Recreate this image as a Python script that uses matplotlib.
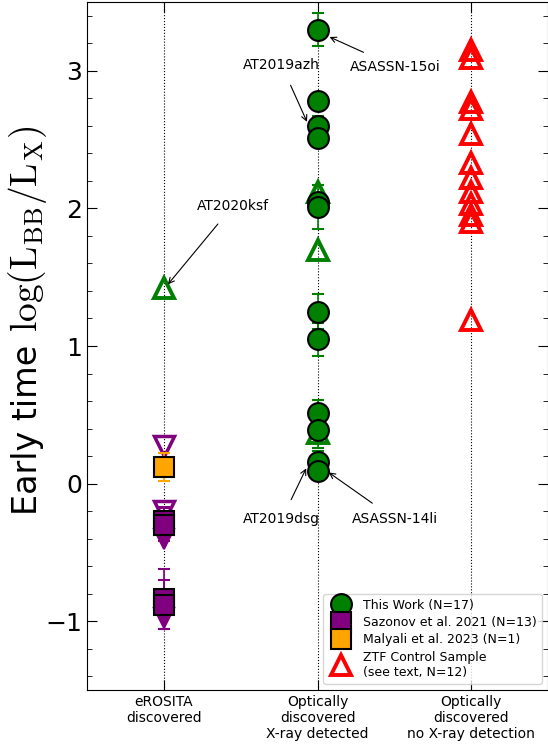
import matplotlib
matplotlib.use("Agg")
import matplotlib.pyplot as plt
from matplotlib.ticker import AutoMinorLocator

plt.rcParams['mathtext.fontset'] = 'cm'

# ---- data ----
categories = ["eROSITA\ndiscovered", "Optically\ndiscovered\nX-ray detected",
              "Optically\ndiscovered\nno X-ray detection"]

# This work (x = 1, optically discovered, X-ray detected)
work_y = [3.30, 2.78, 2.60, 2.51, 2.05, 2.01, 1.25, 1.05, 0.51, 0.39, 0.16, 0.09]
work_err = [0.12, 0.05, 0.07, 0.05, 0.05, 0.16, 0.13, 0.12, 0.10, 0.13, 0.08, 0.05]
work_lim_y = [2.12, 1.70, 0.37]          # open triangles at x = 1
ksf_y = [1.42]                            # AT2020ksf at x = 0

# Sazonov et al. 2021 (x = 0)
saz_y = [-0.27, -0.30, -0.84, -0.88]
saz_err = [0.10, 0.12, 0.22, 0.18]
saz_lim_open = [0.27, -0.20]
saz_lim_fill = [-0.40, -0.98]

# Malyali et al. 2023 (x = 0)
mal_y = [0.12]
mal_err = [0.10]

# ZTF control sample (x = 2)
ztf_y = [3.15, 3.09, 2.77, 2.72, 2.54, 2.33, 2.22, 2.12, 2.03, 1.95, 1.90, 1.19]

# annotations: (label, target x, target y, text x, text y)
annots = [
    ("AT2020ksf", 0.02, 1.44, 0.45, 2.02),
    ("AT2019azh", 0.935, 2.62, 0.766, 3.04),
    ("ASASSN-15oi", 1.07, 3.25, 1.506, 3.03),
    ("AT2019dsg", 0.93, 0.12, 0.766, -0.26),
    ("ASASSN-14li", 1.065, 0.087, 1.506, -0.26),
]

fig = plt.figure(figsize=(5.48, 7.47), dpi=100)
ax = fig.add_axes([0.159, 0.0763, 0.841, 0.921])

for xv in range(3):
    ax.axvline(xv, color='k', ls=':', lw=0.8, zorder=0)

ms = 15
tri_ms = 14

# This work triangles (drawn first, beneath circles)
ax.plot([1] * len(work_lim_y), work_lim_y, ls='none', marker='^', ms=tri_ms,
        mfc='none', mec='green', mew=2.8, zorder=2)
ax.plot([0] * len(ksf_y), ksf_y, ls='none', marker='^', ms=tri_ms,
        mfc='none', mec='green', mew=2.8, zorder=2)

h_work = ax.errorbar([1] * len(work_y), work_y, yerr=work_err, fmt='o', color='green',
                     mfc='green', mec='k', mew=1.5, ms=ms, capsize=4, capthick=1.5,
                     elinewidth=1.2, zorder=3, label='This Work (N=17)')

# Sazonov
ax.plot([0] * len(saz_lim_open), saz_lim_open, ls='none', marker='v', ms=tri_ms,
        mfc='none', mec='purple', mew=2.5, zorder=2)
ax.plot([0] * len(saz_lim_fill), saz_lim_fill, ls='none', marker='v', ms=tri_ms,
        mfc='purple', mec='purple', mew=1.5, zorder=2)
h_saz = ax.errorbar([0] * len(saz_y), saz_y, yerr=saz_err, fmt='s', color='purple',
                    mfc='purple', mec='k', mew=1.5, ms=ms, capsize=4, capthick=1.5,
                    elinewidth=1.2, zorder=3, label='Sazonov et al. 2021 (N=13)')

# Malyali
h_mal = ax.errorbar([0] * len(mal_y), mal_y, yerr=mal_err, fmt='s', color='orange',
                    mfc='orange', mec='k', mew=1.5, ms=ms, capsize=4, capthick=1.5,
                    elinewidth=1.2, zorder=3, label='Malyali et al. 2023 (N=1)')

# ZTF
h_ztf, = ax.plot([2] * len(ztf_y), ztf_y, ls='none', marker='^', ms=tri_ms,
                 mfc='none', mec='red', mew=2.8, zorder=3,
                 label='ZTF Control Sample\n(see text, N=12)')

for lab, x, y, tx, ty in annots:
    ax.annotate(lab, xy=(x, y), xytext=(tx, ty), fontsize=10, ha='center', va='center',
                arrowprops=dict(arrowstyle='->', color='k', lw=0.8, shrinkA=8, shrinkB=1))

ax.set_xlim(-0.5, 2.5)
ax.set_ylim(-1.5, 3.5)
ax.set_xticks([0, 1, 2])
ax.set_xticklabels(categories, fontsize=10)
ax.set_yticks([-1, 0, 1, 2, 3])
ax.yaxis.set_minor_locator(AutoMinorLocator(5))
ax.tick_params(axis='y', which='major', labelsize=18, direction='in', right=True,
               length=7)
ax.tick_params(axis='y', which='minor', direction='in', right=True, length=3.5)
ax.tick_params(axis='x', which='major', direction='in', top=True, length=7)

# y label: plain text part + math part
fig.text(0.068, 0.310, 'Early time ', rotation=90, fontsize=24,
         rotation_mode='anchor', ha='left', va='baseline')
fig.text(0.068, 0.556, r'$\mathrm{log(L_{BB}/L_{X})}$', rotation=90, fontsize=27,
         rotation_mode='anchor', ha='left', va='baseline')

ax.legend(handles=[h_work, h_saz, h_mal, h_ztf], loc='lower right', fontsize=9,
          labelspacing=0.35)

fig.savefig('out.png', dpi=100)
